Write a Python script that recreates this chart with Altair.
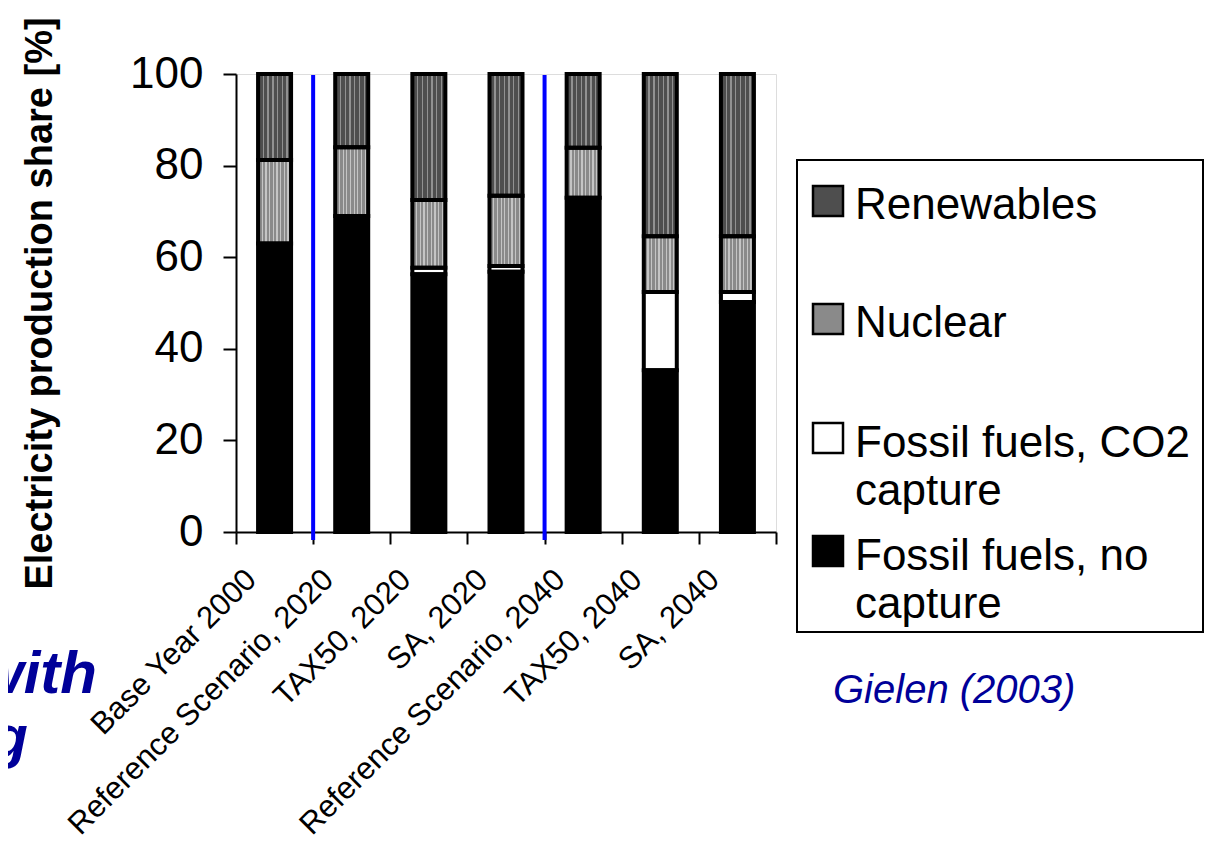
import altair as alt
import pandas as pd

# ---------------- data ----------------
categories = [
    "Base Year 2000",
    "Reference Scenario, 2020",
    "TAX50, 2020",
    "SA, 2020",
    "Reference Scenario, 2040",
    "TAX50, 2040",
    "SA, 2040",
]
series_names = ["Fossil fuels, no capture", "Fossil fuels, CO2 capture", "Nuclear", "Renewables"]
fossil_no_capture = [63.0, 69.0, 56.3, 56.8, 73.0, 35.3, 50.2]
fossil_co2_capture = [0.0, 0.0, 1.4, 1.3, 0.0, 17.1, 2.2]
nuclear = [18.2, 15.0, 14.8, 15.3, 10.9, 12.2, 12.2]
renewables = [18.8, 16.0, 27.5, 26.6, 16.1, 35.4, 35.4]
y_ticks = [0, 20, 40, 60, 80, 100]
separator_before = ["Reference Scenario, 2020", "Reference Scenario, 2040"]
source_note = "Gielen (2003)"

rows = []
for i, c in enumerate(categories):
    for k, vals in enumerate([fossil_no_capture, fossil_co2_capture, nuclear, renewables]):
        if vals[i] > 0:
            rows.append({"category": c, "series": series_names[k], "value": vals[i], "order": k})
df = pd.DataFrame(rows)

# ---------------- style ----------------
W, H = 540, 458
BAR_W = 33
FONT = "Liberation Sans"
NAVY = "#000099"
fills = ["#000000", "#ffffff", "#8a8a8a", "#4e4e4e"]


def stripes(n, on_color, duty):
    stops = []
    off = "rgba(0,0,0,0)"
    for k in range(n):
        a, b, c = k / n, (k + duty) / n, (k + 1) / n
        stops += [
            {"offset": a, "color": on_color},
            {"offset": b, "color": on_color},
            {"offset": b, "color": off},
            {"offset": c, "color": off},
        ]
    return {"gradient": "linear", "x1": 0, "x2": 1, "y1": 0, "y2": 0, "stops": stops}


x_axis = alt.Axis(
    title=None,
    labelAngle=-45,
    labelAlign="right",
    labelBaseline="top",
    labelFont=FONT,
    labelFontSize=31,
    labelColor="black",
    labelLimit=0,
    labelOffset=-34,
    labelPadding=20,
    tickBand="extent",
    tickSize=12,
    tickWidth=2,
    tickColor="black",
    domainColor="black",
    domainWidth=2,
    grid=False,
)


def xenc(**kw):
    return alt.X(
        "category:N",
        sort=categories,
        scale=alt.Scale(paddingInner=0, paddingOuter=0),
        axis=x_axis,
        **kw,
    )


yenc = alt.Y(
    "y0:Q",
    scale=alt.Scale(domain=[0, 100], nice=False),
    axis=alt.Axis(
        values=y_ticks,
        title="Electricity production share [%]",
        titleFont=FONT,
        titleFontSize=38,
        titleFontWeight="bold",
        titleColor="black",
        titlePadding=70,
        labelFont=FONT,
        labelFontSize=44,
        labelColor="black",
        labelPadding=20,
        tickSize=13,
        tickWidth=2,
        tickColor="black",
        domainColor="black",
        domainWidth=2,
        grid=False,
    ),
)

base = alt.Chart(df).transform_stack(
    stack="value",
    groupby=["category"],
    as_=["y0", "y1"],
    sort=[alt.SortField("order", order="ascending")],
)

bars = base.mark_bar(strokeWidth=0, width=BAR_W).encode(
    x=xenc(),
    y=yenc,
    y2="y1:Q",
    fill=alt.Fill("series:N", scale=alt.Scale(domain=series_names, range=fills), legend=None),
)

tex_ren = (
    base.transform_filter(alt.datum.series == "Renewables")
    .mark_bar(fill=stripes(7, "rgba(200,200,200,0.55)", 0.3), strokeWidth=0, width=BAR_W)
    .encode(x=xenc(), y=yenc, y2="y1:Q")
)
tex_nuc = (
    base.transform_filter(alt.datum.series == "Nuclear")
    .mark_bar(fill=stripes(9, "rgba(255,255,255,0.5)", 0.35), strokeWidth=0, width=BAR_W)
    .encode(x=xenc(), y=yenc, y2="y1:Q")
)

outlines = base.mark_bar(fillOpacity=0, stroke="black", strokeWidth=4, width=BAR_W).encode(
    x=xenc(), y=yenc, y2="y1:Q"
)

sep = (
    alt.Chart(pd.DataFrame({"category": separator_before}))
    .mark_rule(color="#0000ff", strokeWidth=4)
    .encode(
        x=xenc(bandPosition=0),
        y=alt.value(1),
        y2=alt.value(H + 8),
    )
)

# ---------------- manual legend ----------------
legend_layers = [
    alt.Chart(pd.DataFrame({"k": [0]}))
    .mark_rect(fillOpacity=0, stroke="black", strokeWidth=2)
    .encode(x=alt.value(561), x2=alt.value(967), y=alt.value(86), y2=alt.value(558))
]
legend_entries = [
    (series_names[3], fills[3], 127, ["Renewables"], 145),
    (series_names[2], fills[2], 245, ["Nuclear"], 263),
    (series_names[1], fills[1], 364, ["Fossil fuels, CO2", "capture"], 383),
    (series_names[0], fills[0], 477, ["Fossil fuels, no", "capture"], 496),
]
for name, col, cy, lines, base_y in legend_entries:
    legend_layers.append(
        alt.Chart(pd.DataFrame({"series": [name]}))
        .mark_rect(fill=col, stroke="black", strokeWidth=2.5)
        .encode(x=alt.value(577), x2=alt.value(607), y=alt.value(cy - 15), y2=alt.value(cy + 15))
    )
    legend_layers.append(
        alt.Chart(pd.DataFrame({"series": [name]}))
        .mark_text(
            text=lines if len(lines) > 1 else lines[0],
            font=FONT,
            fontSize=44,
            color="black",
            align="left",
            baseline="alphabetic",
            lineHeight=48,
        )
        .encode(x=alt.value(619), y=alt.value(base_y))
    )

note = (
    alt.Chart(pd.DataFrame({"t": [source_note]}))
    .mark_text(font=FONT, fontSize=40, fontStyle="italic", color=NAVY, align="left", baseline="alphabetic")
    .encode(text="t:N", x=alt.value(597), y=alt.value(629))
)
slide_with = (
    alt.Chart(pd.DataFrame({"t": ["with"]}))
    .mark_text(font=FONT, fontSize=60, fontStyle="italic", fontWeight="bold", color=NAVY,
               align="right", baseline="alphabetic")
    .encode(text="t:N", x=alt.value(-139), y=alt.value(619))
)
slide_g = (
    alt.Chart(pd.DataFrame({"t": ["g"]}))
    .mark_text(font=FONT, fontSize=60, fontStyle="italic", fontWeight="bold", color=NAVY,
               align="right", baseline="alphabetic")
    .encode(text="t:N", x=alt.value(-208), y=alt.value(683))
)

chart = (
    alt.layer(bars, tex_ren, tex_nuc, outlines, sep, *legend_layers, note, slide_with, slide_g)
    .properties(
        width=W,
        height=H,
        autosize=alt.AutoSizeParams(type="none"),
        padding={"left": 228, "top": 66, "right": 428, "bottom": 308},
    )
    .configure_view(stroke="#a0a0a0", strokeWidth=2.5)
    .configure(background="white")
)

chart.save("out.html", embed_options={"renderer": "svg", "actions": False})
